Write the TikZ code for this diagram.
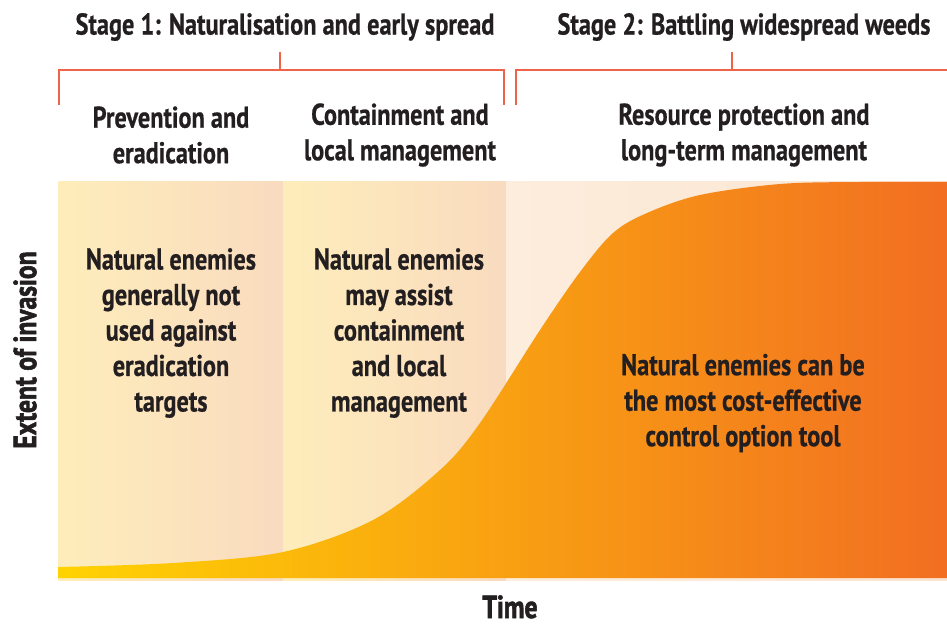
\documentclass[tikz,border=0pt]{standalone}
\usepackage{fontspec}
\setmainfont{PT Sans Bold}[FakeStretch=0.81, FakeBold=0.6]
\newfontfamily\axisfont{PT Sans Bold}[FakeStretch=0.8, FakeBold=1.8]
\begin{document}
\definecolor{ink}{HTML}{231F20}
\definecolor{bracketred}{HTML}{EF6448}
\definecolor{paleyellow}{HTML}{FEEDBB}
\definecolor{palepeach}{HTML}{F9DBBF}
\definecolor{lightpeachA}{HTML}{FDEDDD}
\definecolor{lightpeachB}{HTML}{FBE4CF}
\definecolor{fillyellow}{HTML}{FFD302}
\definecolor{fillamber}{HTML}{F7A21C}
\definecolor{fillorange}{HTML}{F26E22}
\begin{tikzpicture}[x=1pt,y=-1pt,
  label/.style={text=ink, font=\fontsize{30}{35.5}\selectfont, align=center, inner sep=0pt},
  axislabel/.style={text=ink, font=\axisfont\fontsize{32}{38}\selectfont, inner sep=0pt},
  bracket/.style={draw=bracketred, line width=2.4pt},
  panel/.style={left color=paleyellow, right color=palepeach}]
\useasboundingbox (0,0) rectangle (947,628);

% background panels of the three management phases
\shade[panel] (58,182) rectangle (283,580);
\shade[panel] (283,182) rectangle (506,580);
\shade[left color=lightpeachA, right color=lightpeachB] (506,182) rectangle (947,580);

% invasion curve
\shade[left color=fillyellow, middle color=fillamber, right color=fillorange]
  (58,578) -- plot[smooth, tension=0.55] coordinates {
    (58,567) (173,563) (283,552) (373,520) (440,470) (480,423)
    (540,330) (580,272) (613,233) (647,213) (700,195) (780,184) (860,182) (947,182)}
  -- (947,578) -- cycle;

% stage brackets
\coordinate (b1l) at (59,105);
\coordinate (b1r) at (504,105);
\coordinate (b1m) at (280,52);
\draw[bracket] (b1l) |- (b1r |- 0,70) -- (b1r);
\draw[bracket] (b1m) -- (b1m |- 0,70);
\coordinate (b2l) at (516,105);
\coordinate (b2r) at (947,70);
\coordinate (b2m) at (732,52);
\draw[bracket] (b2l) |- (b2r);
\draw[bracket] (b2m) -- (b2m |- 0,70);

% headings
\node[label] (stage1) at (285,27) {Stage 1: Naturalisation and early spread};
\node[label] (stage2) at (744,27) {Stage 2: Battling widespread weeds};
\node[label] (phase1) at (171,135) {Prevention and\\eradication};
\node[label] (phase2) at (400,135) {Containment and\\local management};
\node[label] (phase3) at (744,135) {Resource protection and\\long-term management};

% panel texts
\node[label] (note1) at (171,333) {Natural enemies\\generally not\\used against\\eradication\\targets};
\node[label] (note2) at (399,333) {Natural enemies\\may assist\\containment\\and local\\management};
\node[label] (note3) at (743,403) {Natural enemies can be\\the most cost-effective\\control option tool};

% axes
\node[axislabel, rotate=90] (yaxis) at (25,350) {Extent of invasion};
\node[axislabel, anchor=base] (xaxis) at (510,618) {Time};
\end{tikzpicture}
\end{document}
